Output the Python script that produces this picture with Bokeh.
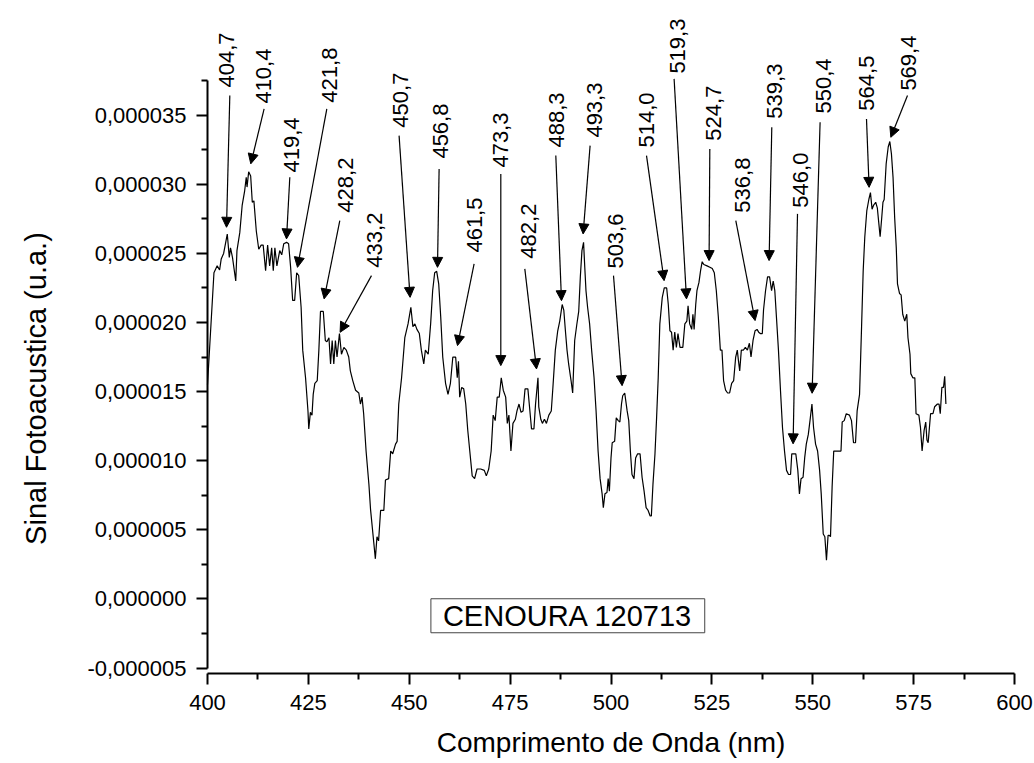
import numpy as np
from bokeh.plotting import figure
from bokeh.models import (Range1d, FixedTicker, CustomJSTickFormatter, Arrow,
                          NormalHead, LabelSet, Label, ColumnDataSource)
from bokeh.embed import file_html
from bokeh.resources import INLINE
from bokeh.core.properties import value

# ---------------- data ----------------
wavelength = [400.0, 401.6, 402.4, 403.0, 403.4, 404.0, 404.9, 405.4, 405.7, 406.2, 407.0, 407.3, 408.0,
              408.6, 409.2, 409.6, 409.8, 410.2, 410.7, 411.1, 411.5, 412.1, 412.7, 413.3, 413.8, 414.4,
              414.9, 415.4, 415.9, 416.3, 416.7, 417.2, 417.9, 418.4, 418.9, 419.6, 420.1, 420.6, 421.1,
              421.6, 422.1, 422.6, 423.2, 423.6, 424.3, 424.9, 425.1, 425.5, 425.9, 426.2, 426.6, 427.2,
              427.6, 428.0, 428.7, 429.2, 429.6, 430.1, 430.5, 430.9, 431.3, 431.7, 432.1, 432.7, 433.2,
              433.8, 434.4, 435.0, 435.4, 436.0, 436.7, 437.5, 437.9, 438.3, 438.7, 439.3, 440.0, 440.4,
              441.0, 441.6, 442.0, 442.4, 442.9, 443.7, 444.1, 444.9, 445.4, 445.9, 446.6, 447.0, 447.4,
              448.1, 448.9, 449.7, 450.4, 450.9, 451.4, 451.9, 452.5, 453.0, 453.6, 454.0, 454.7, 455.3,
              455.8, 456.3, 456.8, 457.3, 457.8, 458.3, 459.0, 459.6, 460.2, 460.8, 461.5, 461.9, 462.2,
              462.5, 463.0, 463.5, 464.0, 464.5, 465.0, 465.6, 466.2, 466.8, 467.7, 468.6, 469.1, 469.7,
              470.3, 470.8, 471.3, 471.8, 472.3, 472.8, 473.3, 473.9, 474.3, 474.7, 475.2, 475.7, 476.3,
              476.7, 477.2, 477.7, 478.2, 478.7, 479.4, 479.9, 480.3, 480.9, 481.3, 481.9, 482.1, 482.6,
              483.0, 483.5, 484.0, 484.6, 485.2, 485.6, 486.2, 486.8, 487.3, 487.9, 488.3, 488.7, 489.1,
              489.5, 490.1, 490.5, 491.0, 491.5, 492.0, 492.4, 492.8, 493.2, 493.5, 493.8, 494.2, 494.7,
              495.2, 495.8, 496.3, 496.8, 497.3, 497.8, 498.1, 498.5, 499.0, 499.3, 499.6, 500.0, 500.3,
              500.9, 501.3, 501.8, 502.2, 502.6, 502.9, 503.4, 504.0, 504.4, 504.8, 505.2, 505.7, 506.1,
              506.6, 507.2, 507.7, 508.2, 508.7, 509.2, 509.7, 510.0, 510.4, 510.9, 511.3, 511.7, 512.1,
              512.7, 513.2, 513.8, 514.2, 514.6, 515.0, 515.4, 515.8, 516.2, 516.6, 517.1, 517.8, 518.3,
              518.8, 519.1, 519.5, 520.0, 520.3, 520.6, 521.0, 521.3, 521.8, 522.2, 522.6, 523.0, 523.8,
              524.5, 525.1, 525.6, 526.1, 526.6, 527.1, 527.5, 527.9, 528.4, 528.9, 529.4, 529.9, 530.4,
              530.9, 531.3, 531.6, 531.9, 532.3, 532.8, 533.3, 533.8, 534.3, 534.7, 535.2, 535.7, 536.2,
              536.6, 537.0, 537.5, 537.8, 538.3, 538.8, 539.3, 539.8, 540.2, 540.6, 541.0, 541.5, 542.0,
              542.5, 543.0, 543.5, 544.0, 544.5, 544.8, 545.3, 545.8, 546.3, 546.7, 547.1, 547.6, 548.0,
              548.4, 548.9, 549.4, 549.8, 550.2, 550.7, 551.2, 551.7, 552.1, 552.6, 553.0, 553.4, 553.8,
              554.1, 554.4, 554.8, 555.2, 555.8, 557.0, 557.3, 557.8, 558.3, 559.1, 559.6, 560.1, 560.6,
              561.0, 561.6, 562.1, 562.5, 562.9, 563.4, 563.9, 564.3, 564.7, 565.1, 565.6, 566.0, 566.4,
              566.7, 567.1, 567.4, 567.7, 568.2, 568.7, 569.1, 569.5, 569.9, 570.3, 570.7, 571.0, 571.5,
              571.9, 572.3, 572.8, 573.3, 573.6, 574.1, 574.3, 574.8, 575.3, 575.6, 576.3, 576.7, 577.1,
              577.6, 578.0, 578.3, 578.6, 579.2, 579.8, 580.2, 580.9, 581.3, 581.6, 582.0, 582.4, 582.7,
              583.0]

# photoacoustic signal, in units of 1e-6 (u.a.)
signal_e6 = [15.5, 23.6, 24.1, 23.8, 24.6, 25.0, 26.4, 24.7, 25.4, 24.7, 23.0, 25.2, 26.5,
             28.5, 29.5, 30.5, 29.8, 30.9, 30.6, 28.7, 28.8, 26.6, 25.3, 25.6, 25.6, 23.75,
             25.6, 24.1, 25.4, 23.75, 25.4, 24.1, 25.2, 24.9, 25.7, 25.8, 25.7, 24.0, 21.6,
             21.6, 23.6, 23.4, 21.1, 18.0, 16.0, 13.6, 12.3, 13.5, 13.3, 14.8, 15.6, 15.8,
             18.0, 20.8, 20.8, 18.7, 18.6, 18.9, 17.0, 18.7, 17.0, 18.7, 17.5, 19.2, 17.7,
             18.2, 18.0, 17.5, 16.5, 15.8, 15.1, 14.9, 14.1, 14.6, 13.4, 10.7, 8.3, 6.5,
             4.7, 2.9, 4.5, 4.2, 6.4, 6.4, 8.6, 8.7, 10.7, 10.5, 11.2, 11.4, 14.1,
             16.0, 18.9, 19.9, 21.1, 19.7, 19.9, 19.5, 19.2, 18.0, 17.0, 18.0, 17.7, 19.9,
             22.3, 23.6, 23.7, 22.8, 20.4, 17.5, 15.6, 14.8, 15.6, 17.5, 17.5, 16.0, 17.2,
             14.6, 15.3, 15.2, 14.1, 12.2, 10.7, 8.9, 8.7, 9.4, 9.4, 9.3, 8.9, 9.4,
             10.7, 13.3, 12.9, 14.6, 14.6, 16.0, 15.1, 14.6, 12.7, 13.3, 10.7, 12.7, 13.0,
             13.6, 14.1, 13.5, 13.6, 15.2, 15.2, 13.6, 12.3, 12.3, 14.1, 16.0, 13.9, 13.0,
             12.7, 13.0, 12.7, 13.3, 13.6, 15.3, 18.0, 19.4, 20.1, 21.3, 20.9, 19.4, 18.0,
             17.0, 15.8, 14.9, 18.7, 19.8, 20.8, 23.3, 25.2, 25.8, 24.0, 22.3, 21.1, 19.9,
             18.0, 16.0, 13.6, 10.7, 8.7, 7.6, 6.6, 7.6, 7.7, 8.7, 7.8, 10.2, 11.3,
             11.4, 13.1, 12.9, 12.8, 14.1, 14.7, 14.9, 13.6, 12.9, 10.7, 9.0, 8.7, 10.2,
             10.5, 10.5, 8.8, 7.8, 6.6, 6.4, 6.0, 6.0, 8.3, 10.5, 13.1, 16.0, 19.9,
             21.8, 22.5, 22.5, 21.3, 19.4, 19.3, 18.0, 19.3, 18.2, 19.2, 18.2, 18.2, 19.9,
             20.1, 21.2, 19.9, 19.5, 20.6, 19.5, 21.3, 22.3, 22.9, 23.75, 24.4, 24.2, 24.1,
             24.0, 23.9, 23.6, 22.3, 20.4, 18.0, 18.0, 15.8, 15.1, 14.9, 14.9, 15.6, 15.8,
             17.5, 18.0, 17.2, 16.5, 18.0, 18.0, 18.2, 18.0, 18.5, 17.5, 18.7, 19.4, 19.5,
             19.3, 19.2, 19.2, 20.9, 22.3, 23.3, 23.3, 22.3, 23.0, 22.3, 20.4, 18.0, 15.1,
             12.4, 10.7, 9.3, 9.0, 9.0, 10.5, 10.5, 10.5, 9.3, 7.6, 8.7, 8.8, 10.2,
             11.2, 11.9, 13.1, 14.1, 12.4, 11.2, 10.7, 9.3, 7.6, 4.7, 4.5, 2.8, 4.6,
             4.6, 4.5, 8.1, 10.7, 10.7, 10.7, 12.8, 12.9, 13.4, 13.3, 12.9, 11.3, 11.3,
             13.6, 14.8, 19.7, 23.75, 26.2, 28.1, 28.9, 29.4, 28.2, 28.5, 28.7, 28.3, 27.1,
             26.2, 27.6, 28.7, 28.9, 31.5, 32.7, 33.1, 32.2, 30.5, 27.6, 25.4, 22.8, 22.1,
             22.0, 20.6, 20.1, 20.6, 18.9, 17.7, 16.3, 16.0, 16.0, 13.4, 13.3, 12.4, 10.7,
             12.2, 12.8, 11.5, 11.3, 13.4, 13.4, 13.9, 14.1, 14.1, 13.4, 15.3, 15.3, 16.1,
             14.1]

# peak annotations (text in nm, positions in data units: nm, 1e-6 u.a.)
peak_labels = ["404,7", "410,4", "419,4", "421,8", "428,2", "433,2", "450,7", "456,8",
               "461,5", "473,3", "482,2", "488,3", "493,3", "503,6", "514,0", "519,3",
               "524,7", "536,8", "539,3", "546,0", "550,4", "564,5", "569,4"]
label_x = [404.66, 413.83, 420.77, 430.19, 434.15, 441.34, 447.91, 457.69, 466.12, 472.69,
           479.50, 486.44, 495.86, 501.19, 508.87, 516.43, 525.35, 532.54, 540.60, 547.04,
           552.62, 563.40, 573.81]
label_y = [37.00, 35.84, 30.85, 35.91, 27.95, 23.97, 34.10, 31.86, 25.06, 31.21,
           24.62, 32.66, 33.38, 23.90, 32.66, 38.01, 33.16, 27.95, 34.75, 28.31,
           35.12, 35.33, 36.78]
tail_x = [405.53, 414.03, 420.40, 429.57, 432.79, 440.64, 447.48, 457.40, 466.07, 472.69,
          478.64, 486.32, 494.82, 500.62, 508.80, 515.64, 524.49, 530.93, 539.85, 546.22,
          551.82, 563.32, 573.48]
tail_y = [36.42, 35.46, 30.51, 35.46, 27.37, 23.39, 33.52, 31.11, 24.24, 30.75,
          23.88, 32.08, 32.80, 23.39, 32.08, 37.63, 32.56, 27.37, 34.12, 27.86,
          34.49, 34.73, 36.42]
tip_x = [404.71, 410.73, 419.58, 422.30, 428.90, 432.86, 450.21, 457.00, 461.96, 472.69,
         481.54, 487.73, 493.09, 502.75, 513.16, 518.71, 524.31, 535.71, 539.18, 545.13,
         549.84, 563.97, 569.35]
tip_y = [26.89, 31.48, 26.05, 23.99, 21.71, 19.29, 21.82, 23.99, 18.33, 16.88,
         16.64, 21.58, 26.41, 15.43, 23.03, 21.71, 24.48, 20.14, 24.48, 11.22,
         14.88, 29.78, 33.40]

sample_name = "CENOURA 120713"
x_title = "Comprimento de Onda (nm)"
y_title = "Sinal Fotoacustica (u.a.)"

x_ticks = [400, 425, 450, 475, 500, 525, 550, 575, 600]
y_ticks_e6 = [-5, 0, 5, 10, 15, 20, 25, 30, 35]

# ---------------- figure ----------------
FONT = "Liberation Sans"
S = 1e-6
W, H = 1034, 763
PX_PER_NM = 4.035          # horizontal scale
PX_PER_UNIT = 13.82        # vertical scale, px per 1e-6
x0 = 400 - 207 / PX_PER_NM
y_top = 598.4 / PX_PER_UNIT

# the frame fills the whole canvas; axes are pinned at fixed data locations
p = figure(width=W, height=H, output_backend="svg", toolbar_location=None, title=None,
           x_range=Range1d(x0, x0 + W / PX_PER_NM),
           y_range=Range1d((y_top - H / PX_PER_UNIT) * S, y_top * S),
           min_border=0, min_border_left=0, min_border_right=0,
           min_border_top=0, min_border_bottom=0,
           background_fill_color="white", border_fill_color="white")
p.outline_line_color = None
p.grid.visible = False

p.line(wavelength, np.array(signal_e6) * S, line_color="black", line_width=1.2)

# arrows
arrow_src = ColumnDataSource(dict(x0=tail_x, y0=np.array(tail_y) * S,
                                  x1=tip_x, y1=np.array(tip_y) * S))
p.add_layout(Arrow(source=arrow_src, x_start="x0", y_start="y0", x_end="x1", y_end="y1",
                   line_color="black", line_width=1.2,
                   end=NormalHead(size=10, fill_color="black", line_color="black", line_width=1)))

lab_src = ColumnDataSource(dict(x=label_x, y=np.array(label_y) * S, t=peak_labels))
p.add_layout(LabelSet(source=lab_src, x="x", y="y", text="t", angle=np.pi / 2,
                      text_align="left", text_baseline="middle",
                      text_font=value(FONT), text_font_size="22px", text_color="black"))

p.add_layout(Label(x=489.3, y=-1.22 * S, text=sample_name, text_align="center",
                   text_baseline="middle", text_font=FONT, text_font_size="29px",
                   text_color="black", border_line_color="#444444", border_line_width=1,
                   background_fill_color="white", padding=(12, 12, 1, 1)))

# axis titles
p.add_layout(Label(x=x0 + 35 / PX_PER_NM, y=15.22 * S, text=y_title, angle=np.pi / 2,
                   text_align="center", text_baseline="middle", text_font=FONT,
                   text_font_size="29px", text_color="black"))
p.add_layout(Label(x=500, y=(598.4 - 742) / PX_PER_UNIT * S, text=x_title,
                   text_align="center", text_baseline="middle", text_font=FONT,
                   text_font_size="28px", text_color="black"))

# axes
xax = p.xaxis[0]
yax = p.yaxis[0]
xax.fixed_location = (598.4 - 673.3) / PX_PER_UNIT * S
yax.fixed_location = 400
xax.bounds = (400, 600)
yax.bounds = (-5 * S, 37.5 * S)
xax.ticker = FixedTicker(ticks=x_ticks,
                         minor_ticks=[t + 12.5 for t in x_ticks[:-1]])
yax.ticker = FixedTicker(ticks=[v * S for v in y_ticks_e6],
                         minor_ticks=[(v + 2.5) * S for v in y_ticks_e6])
yax.formatter = CustomJSTickFormatter(code="return tick.toFixed(6).replace('.', ',');")

for ax in (xax, yax):
    ax.axis_line_width = 2
    ax.axis_line_color = "black"
    ax.major_tick_line_width = 2
    ax.minor_tick_line_width = 2
    ax.major_tick_line_color = "black"
    ax.minor_tick_line_color = "black"
    ax.major_tick_in = 0
    ax.major_tick_out = 11
    ax.minor_tick_in = 0
    ax.minor_tick_out = 6
    ax.major_label_text_font = FONT
    ax.major_label_text_font_size = "22px"
    ax.major_label_text_color = "black"

xax.major_label_standoff = 10
yax.major_label_standoff = 10

open("out.html", "w").write(file_html(p, INLINE))
